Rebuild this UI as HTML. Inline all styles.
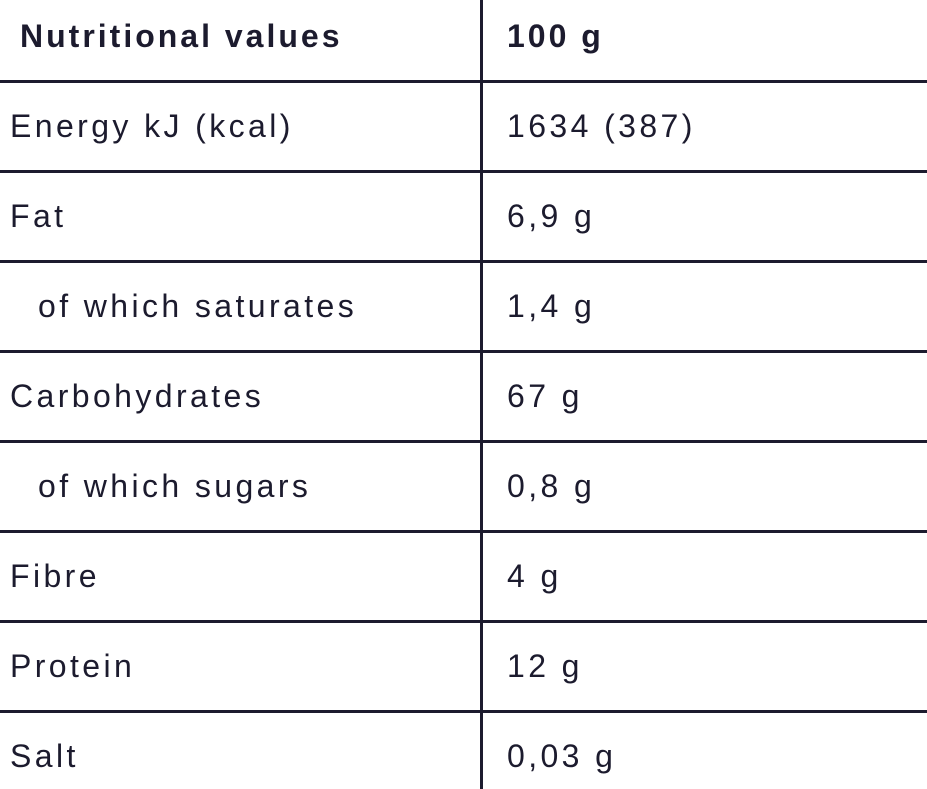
<!DOCTYPE html>
<html><head><style>
body{margin:0;width:927px;height:789px;background:#fff;position:relative;overflow:hidden;font-family:"Liberation Sans",sans-serif;color:#1c1b2e}
.h{position:absolute;left:0;width:927px;height:3px;background:#1c1b2e}
.v{position:absolute;left:480px;top:0;width:3px;height:789px;background:#1c1b2e}
.t{position:absolute;font-size:32px;line-height:40px;letter-spacing:3.4px;white-space:nowrap}
.b{font-weight:bold;letter-spacing:3px}
</style></head><body>
<div class="v"></div>
<div class="h" style="top:80px"></div>
<div class="h" style="top:170px"></div>
<div class="h" style="top:260px"></div>
<div class="h" style="top:350px"></div>
<div class="h" style="top:440px"></div>
<div class="h" style="top:530px"></div>
<div class="h" style="top:620px"></div>
<div class="h" style="top:710px"></div>
<div class="t b" style="left:20px;top:16px">Nutritional values</div>
<div class="t b" style="left:507px;top:16px">100 g</div>
<div class="t" style="left:10px;top:106px">Energy kJ (kcal)</div>
<div class="t" style="left:507px;top:106px">1634 (387)</div>
<div class="t" style="left:10px;top:196px">Fat</div>
<div class="t" style="left:507px;top:196px">6,9 g</div>
<div class="t" style="left:38px;top:286px">of which saturates</div>
<div class="t" style="left:507px;top:286px">1,4 g</div>
<div class="t" style="left:10px;top:376px">Carbohydrates</div>
<div class="t" style="left:507px;top:376px">67 g</div>
<div class="t" style="left:38px;top:466px">of which sugars</div>
<div class="t" style="left:507px;top:466px">0,8 g</div>
<div class="t" style="left:10px;top:556px">Fibre</div>
<div class="t" style="left:507px;top:556px">4 g</div>
<div class="t" style="left:10px;top:646px">Protein</div>
<div class="t" style="left:507px;top:646px">12 g</div>
<div class="t" style="left:10px;top:736px">Salt</div>
<div class="t" style="left:507px;top:736px">0,03 g</div>
</body></html>
